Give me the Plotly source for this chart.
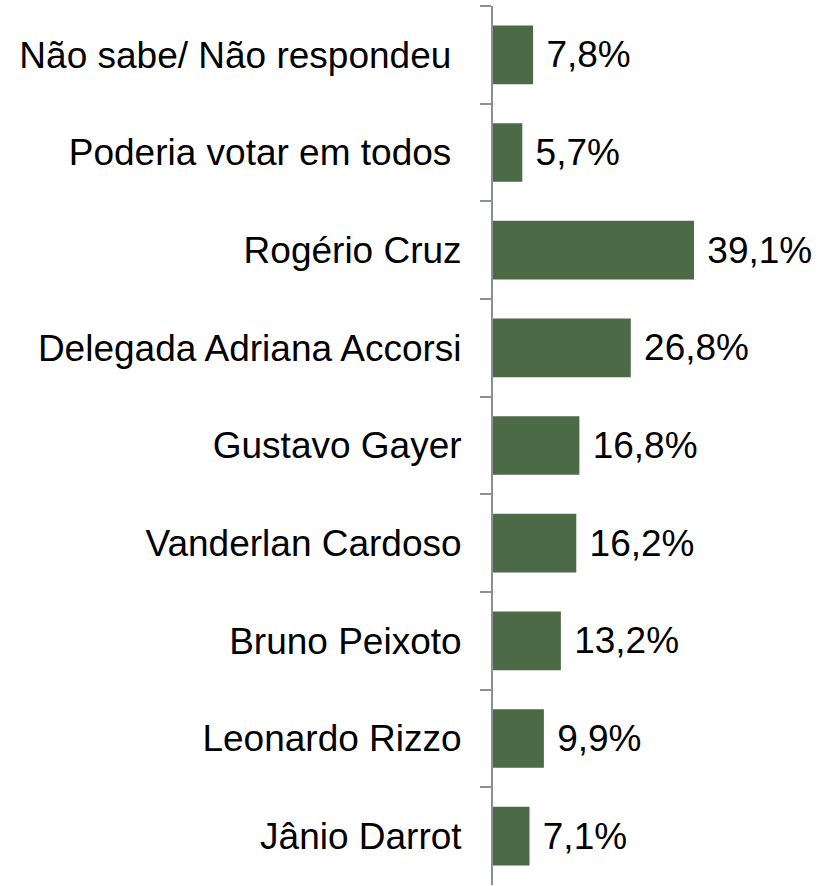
import plotly.graph_objects as go

categories = [
    "Não sabe/ Não respondeu ",
    "Poderia votar em todos ",
    "Rogério Cruz",
    "Delegada Adriana Accorsi",
    "Gustavo Gayer",
    "Vanderlan Cardoso",
    "Bruno Peixoto",
    "Leonardo Rizzo",
    "Jânio Darrot",
]
values = [7.8, 5.7, 39.1, 26.8, 16.8, 16.2, 13.2, 9.9, 7.1]
value_labels = ["\u00a0" + f"{v:.1f}".replace(".", ",") + "%" for v in values]

FONT = "Liberation Sans, Arial"

fig = go.Figure(
    go.Bar(
        x=values,
        y=categories,
        orientation="h",
        text=value_labels,
        textposition="outside",
        cliponaxis=False,
        marker=dict(color="#4B6A45", line=dict(width=0)),
        textfont=dict(family=FONT, size=37, color="#000000"),
        hoverinfo="skip",
    )
)

fig.update_layout(
    width=820,
    height=886,
    margin=dict(l=493, r=0, t=6, b=1, autoexpand=False),
    paper_bgcolor="white",
    plot_bgcolor="white",
    showlegend=False,
    bargap=0.4,
    font=dict(family=FONT, size=37, color="#000000"),
    xaxis=dict(
        range=[0, 63.6],
        visible=False,
        showgrid=False,
        zeroline=False,
        automargin=False,
    ),
    yaxis=dict(
        autorange="reversed",
        tickson="boundaries",
        ticks="outside",
        ticklen=11,
        tickwidth=2,
        tickcolor="#8C8F99",
        showline=True,
        linecolor="#8C8F99",
        linewidth=2,
        showgrid=False,
        zeroline=False,
        automargin=False,
        ticklabelstandoff=22,
        tickfont=dict(family=FONT, size=37, color="#000000"),
    ),
)

fig.write_html(
    "out.html",
    config={"displayModeBar": False},
    post_script="document.body.style.margin='0';document.body.style.overflow='hidden';",
)
